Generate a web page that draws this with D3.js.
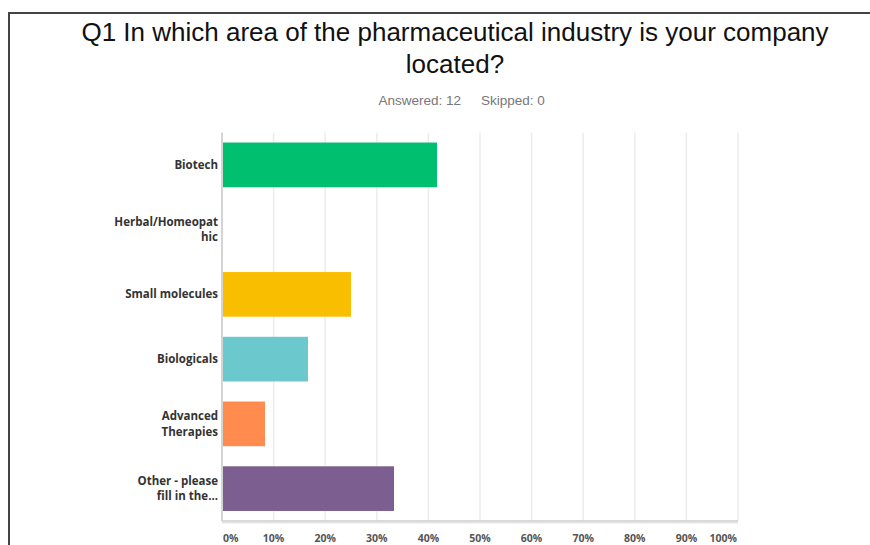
<!DOCTYPE html>
<html>
<head>
<meta charset="utf-8">
<script src="https://cdn.jsdelivr.net/npm/d3@7"></script>
<style>
  html, body { margin: 0; padding: 0; background: #fff; }
</style>
</head>
<body>
<div id="chart-container"></div>
<script>
/**************************************************
 * Data
 **************************************************/

const categories = [
  "Biotech",
  "Herbal/Homeopat\nhic",
  "Small molecules",
  "Biologicals",
  "Advanced\nTherapies",
  "Other - please\nfill in the..."
];
const responses = [5, 0, 3, 2, 1, 4];
const answered = 12;
const skipped = 0;
const barColors = ["#00bf6f", "#507cb6", "#f9be00", "#6bc8cd", "#ff8b4f", "#7d5e90"];
const tickValues = [0, 0.1, 0.2, 0.3, 0.4, 0.5, 0.6, 0.7, 0.8, 0.9, 1];

/**************************************************
 * Rendering
 **************************************************/

function renderChart() {
  const width = 870, height = 545;
  const svg = d3.select("#chart-container")
    .append("svg")
    .attr("width", width)
    .attr("height", height);

  // frame
  svg.append("path")
    .attr("d", `M9,${height} V13 H${width}`)
    .attr("fill", "none")
    .attr("stroke", "#444")
    .attr("stroke-width", 2);

  // title
  const title = svg.append("text")
    .attr("x", 455)
    .attr("text-anchor", "middle")
    .attr("font-family", "'Liberation Sans', Arial, sans-serif")
    .attr("font-size", "26px")
    .attr("fill", "#111");
  title.append("tspan").attr("x", 455).attr("y", 41)
    .text("Q1 In which area of the pharmaceutical industry is your company");
  title.append("tspan").attr("x", 455).attr("y", 73)
    .text("located?");

  svg.append("text")
    .attr("x", 461)
    .attr("y", 105)
    .attr("text-anchor", "end")
    .attr("font-family", "'Liberation Sans', Arial, sans-serif")
    .attr("font-size", "13.5px")
    .attr("fill", "#777")
    .text(`Answered: ${answered}`);
  svg.append("text")
    .attr("x", 481)
    .attr("y", 105)
    .attr("font-family", "'Liberation Sans', Arial, sans-serif")
    .attr("font-size", "13.5px")
    .attr("fill", "#777")
    .text(`Skipped: ${skipped}`);

  const left = 222, right = 738, top = 132.5, bottom = 521;

  const x = d3.scaleLinear().domain([0, 1]).range([left, right]);
  const y = d3.scaleBand()
    .domain(categories)
    .range([top, bottom])
    .paddingInner(0.31)
    .paddingOuter(0.155);

  // gridlines
  svg.selectAll(".grid")
    .data(tickValues.slice(1))
    .enter().append("line")
    .attr("class", "grid")
    .attr("x1", d => x(d)).attr("x2", d => x(d))
    .attr("y1", top).attr("y2", bottom)
    .attr("stroke", "#ececec")
    .attr("stroke-width", 1.5);

  // bars
  svg.selectAll(".bar")
    .data(categories)
    .enter().append("rect")
    .attr("class", "bar")
    .attr("x", x(0))
    .attr("y", d => y(d))
    .attr("width", (d, i) => x(responses[i] / answered) - x(0))
    .attr("height", y.bandwidth())
    .attr("fill", (d, i) => barColors[i]);

  // axis lines
  svg.append("line")
    .attr("x1", left).attr("x2", right)
    .attr("y1", bottom + 1.5).attr("y2", bottom + 1.5)
    .attr("stroke", "#e6e6e6").attr("stroke-width", 2);
  svg.append("line")
    .attr("x1", left).attr("x2", right)
    .attr("y1", bottom).attr("y2", bottom)
    .attr("stroke", "#cfcfcf").attr("stroke-width", 1.5);
  svg.append("line")
    .attr("x1", left).attr("x2", left)
    .attr("y1", top).attr("y2", bottom)
    .attr("stroke", "#d4d4d4").attr("stroke-width", 2);

  // tick labels
  svg.selectAll(".tick-label")
    .data(tickValues)
    .enter().append("text")
    .attr("class", "tick-label")
    .attr("x", (d, i) => i === 0 ? x(d) + 1 : (i === tickValues.length - 1 ? x(d) - 1 : x(d)))
    .attr("y", 542)
    .attr("text-anchor", (d, i) => i === 0 ? "start" : (i === tickValues.length - 1 ? "end" : "middle"))
    .attr("font-family", "'Open Sans', sans-serif")
    .attr("font-weight", "bold")
    .attr("font-size", "10.5px")
    .attr("fill", "#555")
    .text(d => d3.format(".0%")(d));

  // category labels
  categories.forEach(c => {
    const lines = c.split("\n");
    const cy = y(c) + y.bandwidth() / 2;
    const lh = 15.5;
    const t = svg.append("text")
      .attr("text-anchor", "end")
      .attr("font-family", "'Open Sans', sans-serif")
      .attr("font-weight", "bold")
      .attr("font-size", "11.5px")
      .attr("fill", "#333");
    lines.forEach((ln, k) => {
      t.append("tspan")
        .attr("x", 218)
        .attr("y", cy + (k - (lines.length - 1) / 2) * lh)
        .attr("dy", "0.35em")
        .text(ln);
    });
  });
}

renderChart();
</script>
</body>
</html>
